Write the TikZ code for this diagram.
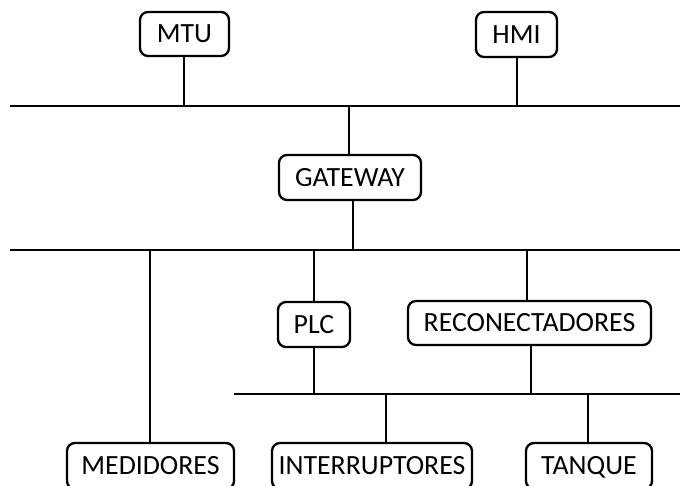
\documentclass[tikz,border=0pt]{standalone}
\usepackage{fontspec}
\setmainfont{Carlito}
\begin{document}
\begin{tikzpicture}[x=1pt,y=-1pt,
  box/.style={draw,line width=2.3pt,rounded corners=8pt,inner sep=0pt,
    text height=17.9pt,text depth=0pt,font=\fontsize{27.8}{30}\selectfont},
  wire/.style={line width=2.3pt}]
\useasboundingbox (0,0) rectangle (680,485);
\begin{scope}
\clip (0,0) rectangle (680,485);
% nodes
\node[box,minimum width=89pt,minimum height=44pt] (mtu) at (184.5,34) {MTU};
\node[box,minimum width=81pt,minimum height=45pt] (hmi) at (516.5,34.5) {HMI};
\node[box,minimum width=142pt,minimum height=45pt] (gw) at (350,177.5) {GATEWAY};
\node[box,minimum width=72pt,minimum height=45pt] (plc) at (314,324.5) {PLC};
\node[box,minimum width=243pt,minimum height=44pt] (rec) at (529.5,323) {RECONECTADORES};
\node[box,minimum width=167pt,minimum height=46pt] (med) at (150.5,466) {MEDIDORES};
\node[box,minimum width=200pt,minimum height=46pt] (int) at (372,466) {INTERRUPTORES};
\node[box,minimum width=126pt,minimum height=46pt] (tan) at (589,466) {TANQUE};
% buses
\coordinate (b1l) at (10,106);
\coordinate (b1r) at (680,106);
\coordinate (b2l) at (10,250);
\coordinate (b2r) at (680,250);
\coordinate (b3l) at (234,394);
\coordinate (b3r) at (680,394);
\draw[wire] (b1l) -- (b1r);
\draw[wire] (b2l) -- (b2r);
\draw[wire] (b3l) -- (b3r);
% connectors
\draw[wire] ([xshift=-0.5pt]mtu.south) -- ([xshift=-0.5pt]mtu.south |- b1l);
\draw[wire] ([xshift=0.5pt]hmi.south) -- ([xshift=0.5pt]hmi.south |- b1l);
\draw[wire] ([xshift=-1pt]gw.north) -- ([xshift=-1pt]gw.north |- b1l);
\draw[wire] ([xshift=3pt]gw.south) -- ([xshift=3pt]gw.south |- b2l);
\draw[wire] ([xshift=-0.5pt]med.north) -- ([xshift=-0.5pt]med.north |- b2l);
\draw[wire] (plc.north) -- (plc.north |- b2l);
\draw[wire] (plc.south) -- (plc.south |- b3l);
\draw[wire] ([xshift=-2.5pt]rec.north) -- ([xshift=-2.5pt]rec.north |- b2l);
\draw[wire] ([xshift=1.5pt]rec.south) -- ([xshift=1.5pt]rec.south |- b3l);
\draw[wire] ([xshift=14pt]int.north) -- ([xshift=14pt]int.north |- b3l);
\draw[wire] ([xshift=-1pt]tan.north) -- ([xshift=-1pt]tan.north |- b3l);
\end{scope}
\end{tikzpicture}
\end{document}
